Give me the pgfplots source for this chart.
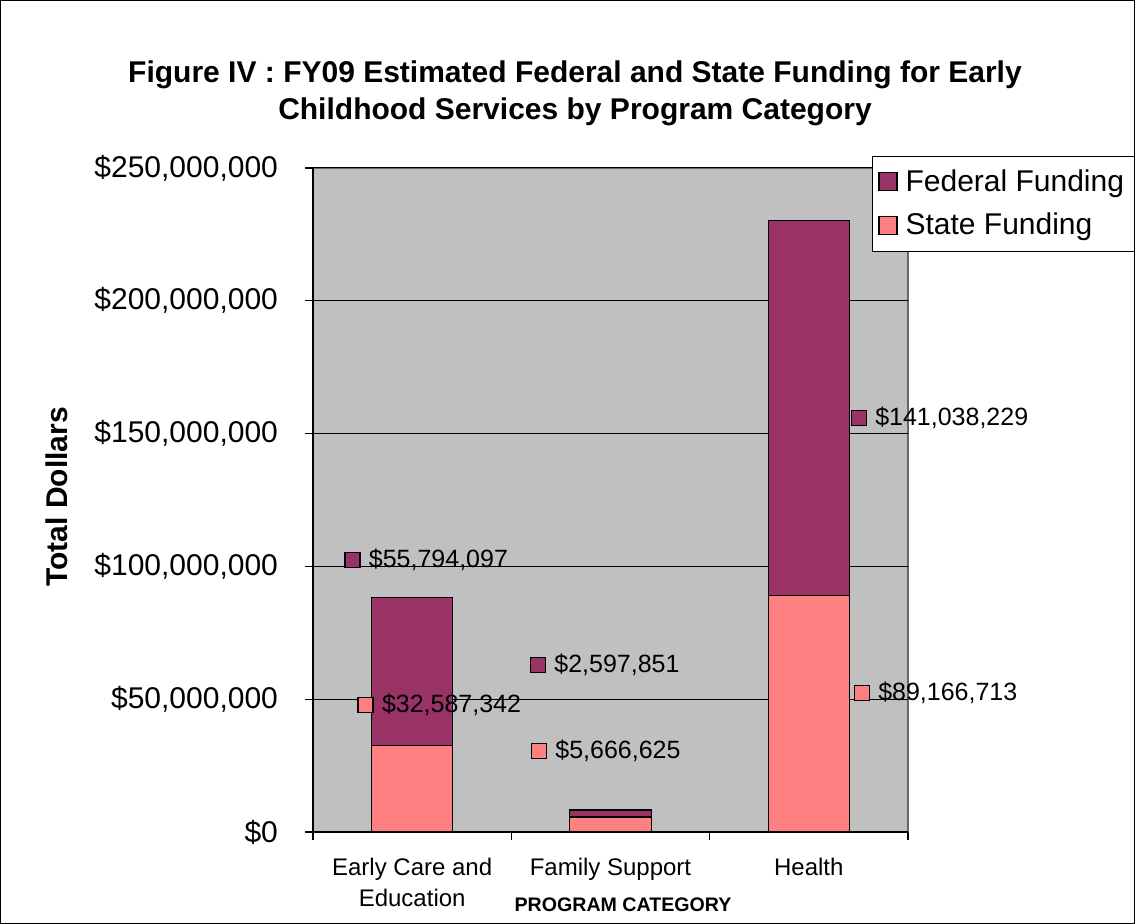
\documentclass[border=0pt]{standalone}
\usepackage{pgfplots}
\pgfplotsset{compat=1.18}
\usepackage{fontspec}
\setmainfont{Liberation Sans}
\definecolor{fed}{HTML}{993366}
\definecolor{state}{HTML}{FF8080}
\definecolor{plotbg}{HTML}{C0C0C0}
\pgfplotsset{sqlegend/.style={legend image code/.code={\draw[##1] (2pt,-4.5pt) rectangle (11pt,4.5pt); \path (13pt,0pt);}}}
\begin{document}
\begin{tikzpicture}
\begin{axis}[
  at={(0,0)}, anchor=south west,
  scale only axis, width=297.5pt, height=332pt,
  clip=false,
  ybar stacked, bar width=0.41,
  xmin=-0.5, xmax=2.5, ymin=0, ymax=250000000,
  axis lines=left, axis line style={-, black, line width=0.6pt},
  axis background/.style={fill=plotbg, draw=gray!80!black, line width=0.8pt},
  xtick={-0.5,0.5,1.5,2.5},
  xticklabels={},
  extra x ticks={0,1,2},
  extra x tick labels={{Early Care and\\Education},{Family Support},{Health}},
  extra x tick style={major tick length=0pt,
     xticklabel style={align=center, font=\fontsize{12}{15.5}\selectfont, yshift=-9.5pt}},
  xtick style={black, line width=0.6pt},
  ytick={0,50000000,100000000,150000000,200000000,250000000},
  yticklabels={{\$0},{\$50,000,000},{\$100,000,000},{\$150,000,000},{\$200,000,000},{\$250,000,000}},
  yticklabel style={font=\fontsize{15}{18}\selectfont, xshift=-10pt},
  ytick style={black, line width=0.6pt},
  scaled y ticks=false,
  tick align=outside, major tick length=4pt,
  ymajorgrids, major grid style={black, line width=0.5pt},
  legend style={at={(0.9395,1.018)}, anchor=north west, draw=black, fill=white,
    font=\fontsize{15}{18}\selectfont, row sep=5.5pt, inner xsep=3pt, inner ysep=4.5pt},
  legend cell align=left,
]
\addlegendimage{fill=fed, draw=black, line width=0.6pt, sqlegend}
\addplot[fill=state, draw=black, line width=0.6pt, sqlegend]
  coordinates {(0,32587342) (1,5666625) (2,89166713)};
\addplot[fill=fed, draw=black, line width=0.6pt, sqlegend]
  coordinates {(0,55794097) (1,2597851) (2,141038229)};
\legend{Federal Funding, State Funding}
\coordinate (L1) at (axis cs:-0.342,102400000);
\coordinate (L2) at (axis cs:-0.276,47800000);
\coordinate (L3) at (axis cs:0.593,62900000);
\coordinate (L4) at (axis cs:0.598,30500000);
\coordinate (L5) at (axis cs:2.211,155900000);
\coordinate (L6) at (axis cs:2.226,52300000);
\end{axis}
\begin{scope}[sq/.style={draw=black, line width=0.6pt, minimum size=7.5pt, inner sep=0pt, anchor=west},
              lab/.style={anchor=west, inner sep=0pt, font=\fontsize{12.5}{14}\selectfont}]
\node[sq, fill=fed] (s1) at (L1) {};   \node[lab] at ([xshift=4pt]s1.east) {\$55,794,097};
\node[sq, fill=state] (s2) at (L2) {}; \node[lab] at ([xshift=4pt]s2.east) {\$32,587,342};
\node[sq, fill=fed] (s3) at (L3) {};   \node[lab] at ([xshift=4pt]s3.east) {\$2,597,851};
\node[sq, fill=state] (s4) at (L4) {}; \node[lab] at ([xshift=4pt]s4.east) {\$5,666,625};
\node[sq, fill=fed] (s5) at (L5) {};   \node[lab] at ([xshift=4pt]s5.east) {\$141,038,229};
\node[sq, fill=state] (s6) at (L6) {}; \node[lab] at ([xshift=4pt]s6.east) {\$89,166,713};
\end{scope}
\node[align=center, font=\bfseries\fontsize{15}{18.5}\selectfont] at (131pt,369.5pt)
  {Figure IV : FY09 Estimated Federal and State Funding for Early\\Childhood Services by Program Category};
\node[rotate=90, font=\bfseries\fontsize{15}{18}\selectfont] at (-128pt,167.5pt) {Total Dollars};
\node[font=\bfseries\fontsize{9.8}{12}\selectfont] at (155pt,-36.5pt) {PROGRAM CATEGORY};
\draw[black, line width=0.6pt] (-156.2pt,-45.7pt) rectangle (410.7pt,415.7pt);
\pgfresetboundingbox
\path[use as bounding box] (-156.5pt,-46pt) rectangle (411pt,416pt);
\end{tikzpicture}
\end{document}
